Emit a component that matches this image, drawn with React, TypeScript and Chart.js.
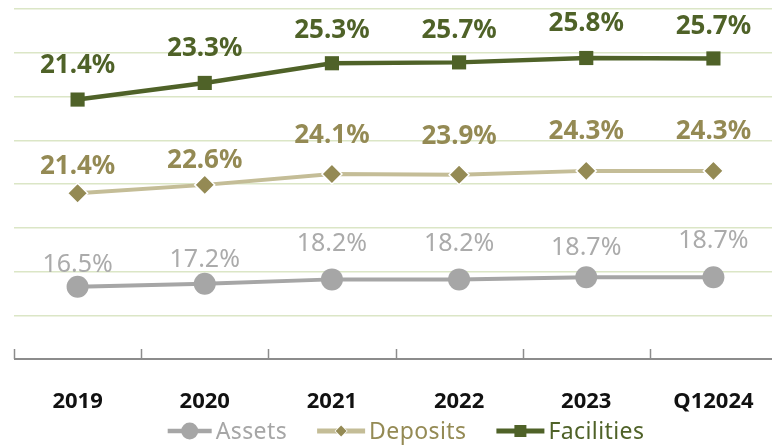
import React, { useEffect, useRef } from "react";
import { Chart, registerables } from "chart.js";

Chart.register(...registerables);

// ---- data ----
const categories = ["2019", "2020", "2021", "2022", "2023", "Q12024"];
const assets = [16.5, 17.2, 18.2, 18.2, 18.7, 18.7];
const deposits = [21.4, 22.6, 24.1, 23.9, 24.3, 24.3];
const facilities = [21.4, 23.3, 25.3, 25.7, 25.8, 25.7];
const seriesNames = ["Assets", "Deposits", "Facilities"];
const yMin = 0;
const yMax = 80;
const yStep = 10;

// ---- styles ----
const assetsLabelOffsets = [24, 26, 37, 37, 31, 38];
const depositsLabelOffsets = [28, 26, 40, 40, 41, 41];
const facilitiesLabelOffsets = [36, 36, 35, 34, 36, 34];

const FONT = "'Noto Sans', 'Open Sans', sans-serif";
const GREEN = "#4f6228";
const TAN_LINE = "#c4bd97";
const TAN_MARK = "#948a54";
const GRAY = "#a6a6a6";
const GRAY_TEXT = "#ababab";

const labelStyles = [
  { font: `400 25px ${FONT}`, color: GRAY_TEXT, offsets: assetsLabelOffsets, size: 25 },
  { font: `700 26px ${FONT}`, color: TAN_MARK, offsets: depositsLabelOffsets, size: 26 },
  { font: `700 26px ${FONT}`, color: GREEN, offsets: facilitiesLabelOffsets, size: 26 },
];

const legendStyles = [
  { line: GRAY, mark: GRAY, text: GRAY, shape: "circle", iconW: 44, markSize: 17, lineW: 4.5 },
  { line: TAN_LINE, mark: TAN_MARK, text: TAN_MARK, shape: "diamond", iconW: 48, markSize: 9, lineW: 5 },
  { line: GREEN, mark: GREEN, text: GREEN, shape: "square", iconW: 48, markSize: 12, lineW: 5 },
];

const valueLabelPlugin = {
  id: "valueLabels",
  afterDatasetsDraw(chart: any) {
    const ctx = chart.ctx;
    chart.data.datasets.forEach((ds: any, di: number) => {
      const meta = chart.getDatasetMeta(di);
      const st = labelStyles[di];
      ctx.save();
      ctx.font = st.font;
      ctx.fillStyle = st.color;
      ctx.textAlign = "center";
      ctx.textBaseline = "alphabetic";
      meta.data.forEach((pt: any, i: number) => {
        const v = ds.data[i] as number;
        const cy = pt.y - st.offsets[i];
        ctx.fillText(v.toFixed(1) + "%", pt.x, cy + st.size * 0.357);
      });
      ctx.restore();
    });
  },
};

const axisPlugin = {
  id: "axisTicksAndLabels",
  afterDraw(chart: any) {
    const xs = chart.scales.x;
    const ctx = chart.ctx;
    const n = categories.length;
    const y = chart.chartArea.bottom;
    ctx.save();
    ctx.strokeStyle = "#8c8c8c";
    ctx.lineWidth = 2;
    ctx.beginPath();
    ctx.moveTo(xs.left, y);
    ctx.lineTo(xs.right, y);
    ctx.stroke();
    ctx.lineWidth = 1.5;
    for (let i = 0; i <= n; i++) {
      const x = Math.round(xs.left + (i * (xs.right - xs.left)) / n) + 0.5;
      ctx.beginPath();
      ctx.moveTo(x, y);
      ctx.lineTo(x, y - 10);
      ctx.stroke();
    }
    ctx.font = `700 22px ${FONT}`;
    ctx.fillStyle = "#111111";
    ctx.textAlign = "center";
    ctx.textBaseline = "alphabetic";
    categories.forEach((c, i) => {
      const x = xs.getPixelForValue(i);
      ctx.fillText(c, x, 400 + 22 * 0.357);
    });
    ctx.restore();
  },
};

const legendPlugin = {
  id: "customLegend",
  afterDraw(chart: any) {
    const ctx = chart.ctx;
    ctx.save();
    ctx.font = `400 23px ${FONT}`;
    try { (ctx as any).letterSpacing = "0.4px"; } catch (e) {}
    const gapIconText = 4;
    const gapItems = 30;
    const widths = seriesNames.map((name, i) => legendStyles[i].iconW + gapIconText + ctx.measureText(name).width);
    const total = widths.reduce((a, b) => a + b, 0) + gapItems * (seriesNames.length - 1);
    let x = 406 - total / 2;
    const cy = 431;
    seriesNames.forEach((name, i) => {
      const s = legendStyles[i];
      ctx.strokeStyle = s.line;
      ctx.lineWidth = s.lineW;
      ctx.beginPath();
      ctx.moveTo(x, cy);
      ctx.lineTo(x + s.iconW, cy);
      ctx.stroke();
      const mx = x + s.iconW / 2;
      ctx.fillStyle = s.mark;
      if (s.shape === "circle") {
        ctx.beginPath();
        ctx.arc(mx, cy, s.markSize / 2, 0, Math.PI * 2);
        ctx.fill();
      } else if (s.shape === "diamond") {
        const r = s.markSize / 2 + 1;
        ctx.fillStyle = "#ffffff";
        ctx.beginPath();
        ctx.moveTo(mx - r - 1, cy);
        ctx.lineTo(mx, cy - r - 1);
        ctx.lineTo(mx + r + 1, cy);
        ctx.lineTo(mx, cy + r + 1);
        ctx.closePath();
        ctx.fill();
        ctx.fillStyle = s.mark;
        ctx.beginPath();
        ctx.moveTo(mx - r, cy);
        ctx.lineTo(mx, cy - r);
        ctx.lineTo(mx + r, cy);
        ctx.lineTo(mx, cy + r);
        ctx.closePath();
        ctx.fill();
      } else {
        ctx.fillRect(mx - s.markSize / 2, cy - s.markSize / 2, s.markSize, s.markSize);
      }
      ctx.fillStyle = s.text;
      ctx.textAlign = "left";
      ctx.textBaseline = "alphabetic";
      ctx.fillText(name, x + s.iconW + gapIconText, cy + 23 * 0.357);
      x += widths[i] + gapItems;
    });
    ctx.restore();
  },
};

export default function App() {
  const canvasRef = useRef<HTMLCanvasElement | null>(null);

  useEffect(() => {
    const canvas = canvasRef.current;
    if (!canvas) return;
    const chart = new Chart(canvas, {
      type: "line",
      data: {
        labels: categories,
        datasets: [
          {
            label: seriesNames[0],
            data: assets,
            borderColor: GRAY,
            borderWidth: 4,
            backgroundColor: GRAY,
            pointStyle: "circle",
            pointRadius: 11,
            pointBackgroundColor: GRAY,
            pointBorderWidth: 0,
            fill: false,
            tension: 0,
          },
          {
            label: seriesNames[1],
            data: deposits,
            borderColor: TAN_LINE,
            borderWidth: 4,
            backgroundColor: TAN_MARK,
            pointStyle: "rectRot",
            pointRadius: 10,
            pointBackgroundColor: TAN_MARK,
            pointBorderColor: "#ffffff",
            pointBorderWidth: 1.5,
            fill: false,
            tension: 0,
          },
          {
            label: seriesNames[2],
            data: facilities,
            borderColor: GREEN,
            borderWidth: 4.5,
            backgroundColor: GREEN,
            pointStyle: "rect",
            pointRadius: 10,
            pointBackgroundColor: GREEN,
            pointBorderWidth: 0,
            fill: false,
            tension: 0,
          },
        ],
      },
      options: {
        responsive: false,
        animation: false,
        layout: { autoPadding: false, padding: { left: 14, right: 3, top: 9, bottom: 86 } },
        plugins: {
          legend: { display: false },
          tooltip: { enabled: false },
        },
        scales: {
          x: {
            offset: true,
            grid: { display: false, drawTicks: false },
            border: { display: false },
            ticks: { display: false },
          },
          y: {
            stacked: true,
            min: yMin,
            max: yMax,
            ticks: { display: false, stepSize: yStep },
            grid: { color: "#dbe6c6", lineWidth: 1.5, drawTicks: false },
            border: { display: false },
          },
        },
      },
      plugins: [valueLabelPlugin, axisPlugin, legendPlugin],
    });
    return () => chart.destroy();
  }, []);

  return (
    <div style={{ position: "fixed", left: 0, top: 0, width: 772, height: 445, overflow: "hidden", background: "#fff" }}>
      <canvas ref={canvasRef} width={780} height={445} style={{ display: "block" }} />
    </div>
  );
}
